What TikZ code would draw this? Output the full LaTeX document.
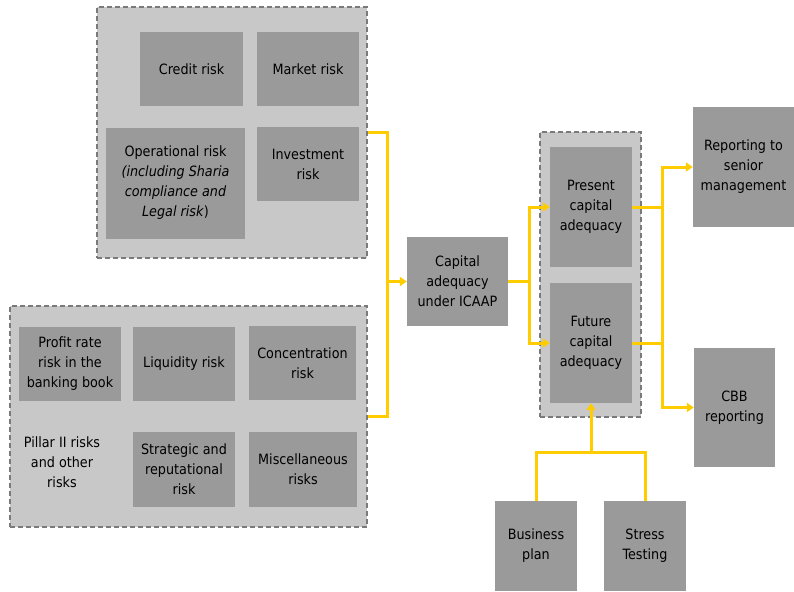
\documentclass[tikz,border=0pt]{standalone}
\usepackage{fontspec}
\setmainfont{DejaVu Sans Condensed}
\usetikzlibrary{arrows.meta}
\definecolor{boxgray}{HTML}{9A9A9A}
\definecolor{grpgray}{HTML}{C8C8C8}
\definecolor{dashgray}{HTML}{7A7A7A}
\definecolor{linkyellow}{HTML}{FFCC00}

\begin{document}
\begin{tikzpicture}[x=1pt,y=-1pt,
font=\fontsize{14.2}{20}\selectfont,
riskbox/.style={fill=boxgray,inner sep=0pt,align=center},
group/.style={draw=dashgray,fill=grpgray,line width=1.3pt,dash pattern=on 5pt off 3pt,inner sep=0pt},
link/.style={draw=linkyellow,line width=3pt},
arrow/.style={link,-{Triangle[length=7pt,width=9pt]}}]
\useasboundingbox (0,0) rectangle (794,591);
% group frames
\node (topgrp) [group,minimum width=270pt,minimum height=251pt] at (232,132.5) {};
\node (botgrp) [group,minimum width=357pt,minimum height=221pt] at (188.5,416.5) {};
\node (midgrp) [group,minimum width=101pt,minimum height=285pt] at (590.5,274.5) {};
% risk types
\node (credit) [riskbox,minimum width=103pt,minimum height=74pt] at (191.5,69.5) {Credit risk};
\node (market) [riskbox,minimum width=102pt,minimum height=74pt] at (308,69.5) {Market risk};
\node (oper) [riskbox,minimum width=139pt,minimum height=111pt] at (175.5,183)
    {Operational risk\\ \textit{(including Sharia}\\ \textit{compliance and}\\ \textit{Legal risk})};
\node (invest) [riskbox,minimum width=102pt,minimum height=74pt] at (308,164) {Investment\\ risk};
\node (profit) [riskbox,minimum width=102pt,minimum height=74pt] at (70,364) {Profit rate\\ risk in the\\ banking book};
\node (liquid) [riskbox,minimum width=102pt,minimum height=74pt] at (184,364) {Liquidity risk};
\node (concen) [riskbox,minimum width=107pt,minimum height=74pt] at (302.5,363) {Concentration\\ risk};
\node (pillar) [align=center,inner sep=0pt] at (62,462) {Pillar II risks\\ and other\\ risks};
\node (strat) [riskbox,minimum width=102pt,minimum height=75pt] at (184,469.5) {Strategic and\\ reputational\\ risk};
\node (misc) [riskbox,minimum width=108pt,minimum height=75pt] at (303,469.5) {Miscellaneous\\ risks};
% capital adequacy
\node (icaap) [riskbox,minimum width=101pt,minimum height=89pt] at (457.5,281.5) {Capital\\ adequacy\\ under ICAAP};
\node (present) [riskbox,minimum width=82pt,minimum height=120pt] at (591,207) {Present\\ capital\\ adequacy};
\node (future) [riskbox,minimum width=82pt,minimum height=120pt] at (591,343) {Future\\ capital\\ adequacy};
% reporting and inputs
\node (report) [riskbox,minimum width=101pt,minimum height=120pt] at (743.5,167) {Reporting to\\ senior\\ management};
\node (cbb) [riskbox,minimum width=81pt,minimum height=119pt] at (734.5,407.5) {CBB\\ reporting};
\node (bizplan) [riskbox,minimum width=82pt,minimum height=90pt] at (536,546) {Business\\ plan};
\node (stress) [riskbox,minimum width=82pt,minimum height=90pt] at (645,546) {Stress\\ Testing};
% connectors
\coordinate (jl) at (387,0);
\coordinate (jm) at (529,0);
\coordinate (jr) at (662,0);
\coordinate (jb) at (591,452);
\draw [link] (topgrp.east) -| (jl |- icaap);
\draw [link] (botgrp.east) -| (jl |- icaap);
\draw [arrow] (jl |- icaap) -- (icaap.west);
\draw [link] (icaap.east) -- (jm |- icaap);
\draw [arrow] (jm |- icaap) |- (present.west);
\draw [arrow] (jm |- icaap) |- (future.west);
\draw [link] (present.east) -- (jr |- present);
\draw [link] (future.east) -- (jr |- future);
\draw [link] (jr |- present) -- (jr |- future);
\draw [arrow] (jr |- present) |- (report.west);
\draw [arrow] (jr |- future) |- (cbb.west);
\draw [link] (bizplan.north) |- (jb) -| (stress.north);
\draw [arrow] (jb) -- (future.south);
\end{tikzpicture}
\end{document}
